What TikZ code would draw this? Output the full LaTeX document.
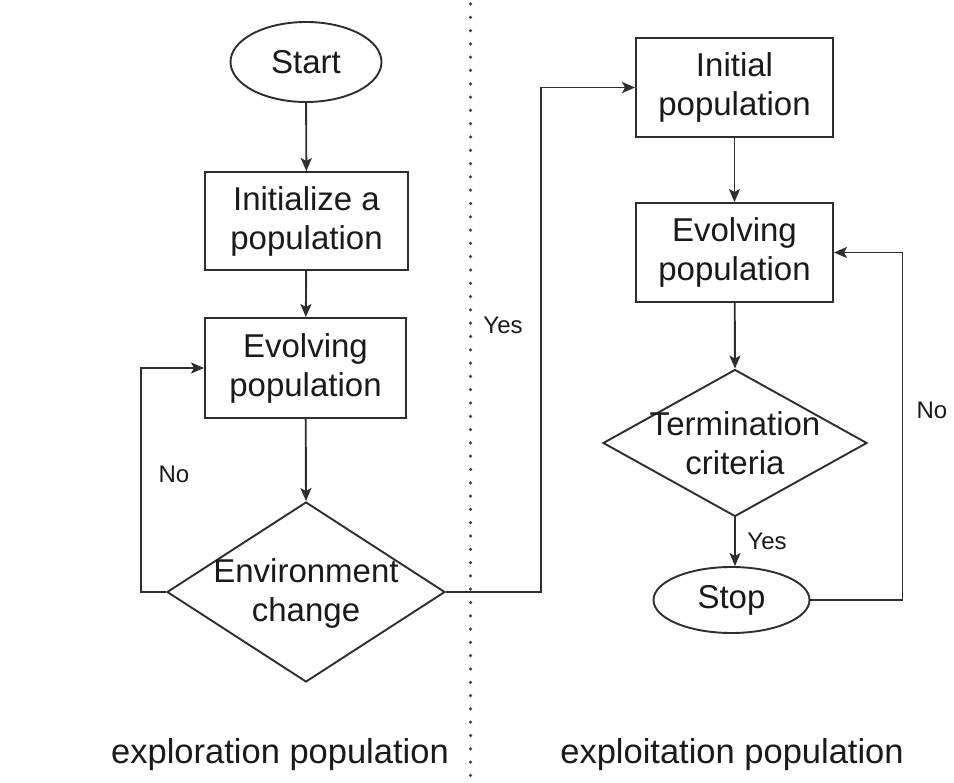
\documentclass[tikz,border=0pt]{standalone}
\usepackage{fontspec}
\setmainfont{Liberation Sans}
\usetikzlibrary{shapes.geometric,arrows.meta}
\definecolor{ln}{HTML}{2E2E2E}
\definecolor{tx}{HTML}{1A1A1A}
\begin{document}
\begin{tikzpicture}[x=1pt,y=-1pt,
  every node/.style={text=tx},
  line/.style={draw=ln, line width=1.9pt},
  arr/.style={line, -{Stealth[length=13pt,width=11pt,inset=3pt]}},
  mainfont/.style={font=\fontsize{33}{39}\selectfont},
  box/.style={draw=ln, line width=1.9pt, rectangle, minimum width=200pt, minimum height=99pt, align=center, inner sep=0pt, mainfont},
  ell/.style={draw=ln, line width=1.9pt, ellipse, inner sep=0pt, align=center, mainfont},
  dia/.style={draw=ln, line width=1.9pt, diamond, inner sep=0pt},
  dtext/.style={align=center, mainfont},
  lab/.style={font=\fontsize{24}{28}\selectfont},
  big/.style={font=\fontsize{34.5}{40}\selectfont}
]
\useasboundingbox[fill=white] (0,0) rectangle (954,783);

% divider
\coordinate (dtop) at (470.5,4);
\coordinate (dbot) at (470.5,783);
\draw[draw=black!75, line width=3.5pt, line cap=round, dash pattern=on 0pt off 13.3pt] (dtop) -- (dbot);

% left column
\node[ell, minimum width=151pt, minimum height=80pt] (start) at (306,62) {Start};
\node[box, minimum width=203pt, minimum height=98pt] (init) at (306.5,221) {Initialize a\\population};
\node[box, minimum width=201pt, minimum height=100pt] (evoA) at (305.5,368) {Evolving\\population};
\node[dia, minimum width=278pt, minimum height=180pt, aspect=1.544] (env) at (306,592) {};
\node[dtext] (envt) at (306,593) {Environment\\change};

% right column
\node[box, minimum width=197pt, minimum height=99pt] (initpop) at (734.5,87.5) {Initial\\population};
\node[box, minimum width=197pt, minimum height=99pt] (evoB) at (734.5,252.5) {Evolving\\population};
\node[dia, minimum width=264pt, minimum height=147pt, aspect=1.796] (term) at (735,443) {};
\node[dtext] (termt) at (735,443) {Termination\\criteria};
\node[ell, minimum width=156pt, minimum height=66pt] (stop) at (731.5,600) {Stop};

% connectors
\draw[arr] (start) -- (init);
\draw[arr] (init) -- (evoA);
\draw[arr] (evoA) -- (env.north);
\draw[arr] (env.west) -- ++(-25,0) |- (evoA.west);
\draw[arr] (env.east) -- ++(95,0) |- (initpop.west);
\draw[arr] (initpop) -- (evoB);
\draw[arr] (evoB) -- (term.north);
\draw[arr] (term.south) -- (term.south |- stop.north);
\draw[arr] (stop.east) -- ++(92,0) |- (evoB.east);

% labels
\node[lab] (noA) at (174,474) {No};
\node[lab] (yesA) at (503,325) {Yes};
\node[lab] (yesB) at (767,541) {Yes};
\node[lab] (noB) at (932,410) {No};

\node[big] (explor) at (280,755) {exploration population};
\node[big] (exploit) at (732,755) {exploitation population};
\end{tikzpicture}
\end{document}
